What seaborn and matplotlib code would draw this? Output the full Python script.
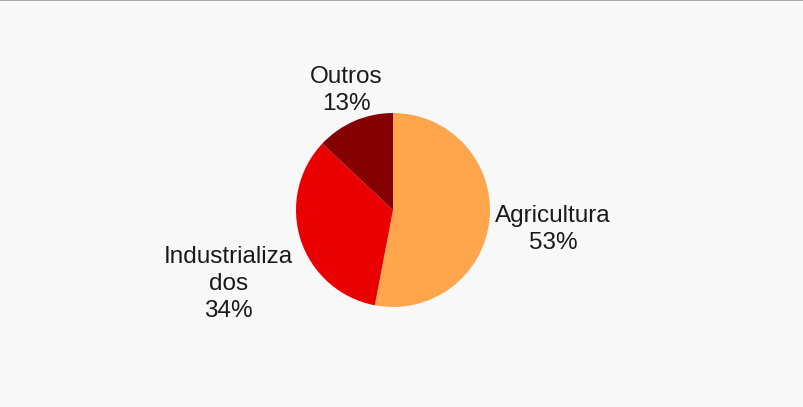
import matplotlib
matplotlib.use("Agg")
import matplotlib.pyplot as plt
import seaborn as sns
import numpy as np

# Data
categories = ["Agricultura", "Industrializa\ndos", "Outros"]
shares = [53, 34, 13]
colors = ["#ffa64d", "#ea0000", "#850000"]

# label centres relative to pie centre (radius units)
label_pos = [(1.65, -0.20), (-1.70, -0.76), (-0.48, 1.23)]

sns.set_theme(style="white")
plt.rcParams['font.family'] = ['Liberation Sans', 'DejaVu Sans']

fig = plt.figure(figsize=(8.04, 4.07), dpi=100, facecolor="#f8f8f8")

# axes placed so the pie sits at pixel centre (393, 210) with radius ~97
W, H = 804, 407
cx, cy, r = 393, 210, 97
ax = fig.add_axes([(cx - r) / W, (H - cy - r) / H, 2 * r / W, 2 * r / H])
ax.set_facecolor("none")

wedges, _ = ax.pie(shares, colors=colors, startangle=90, counterclock=False,
                   radius=1, wedgeprops=dict(linewidth=0))
ax.set_xlim(-1, 1)
ax.set_ylim(-1, 1)
ax.set_aspect("equal")
ax.axis("off")

for cat, val, (lx, ly) in zip(categories, shares, label_pos):
    ax.text(lx, ly, f"{cat}\n{val}%", ha="center", va="center",
            multialignment="center", fontsize=17.5, color="#1a1a1a",
            linespacing=1.3, clip_on=False)

# thin grey border along the top edge
fig.add_artist(plt.Line2D([0, 1], [0.999, 0.999], color="#999999",
                          linewidth=1.2, transform=fig.transFigure))

fig.savefig("out.png", dpi=100, facecolor=fig.get_facecolor())
